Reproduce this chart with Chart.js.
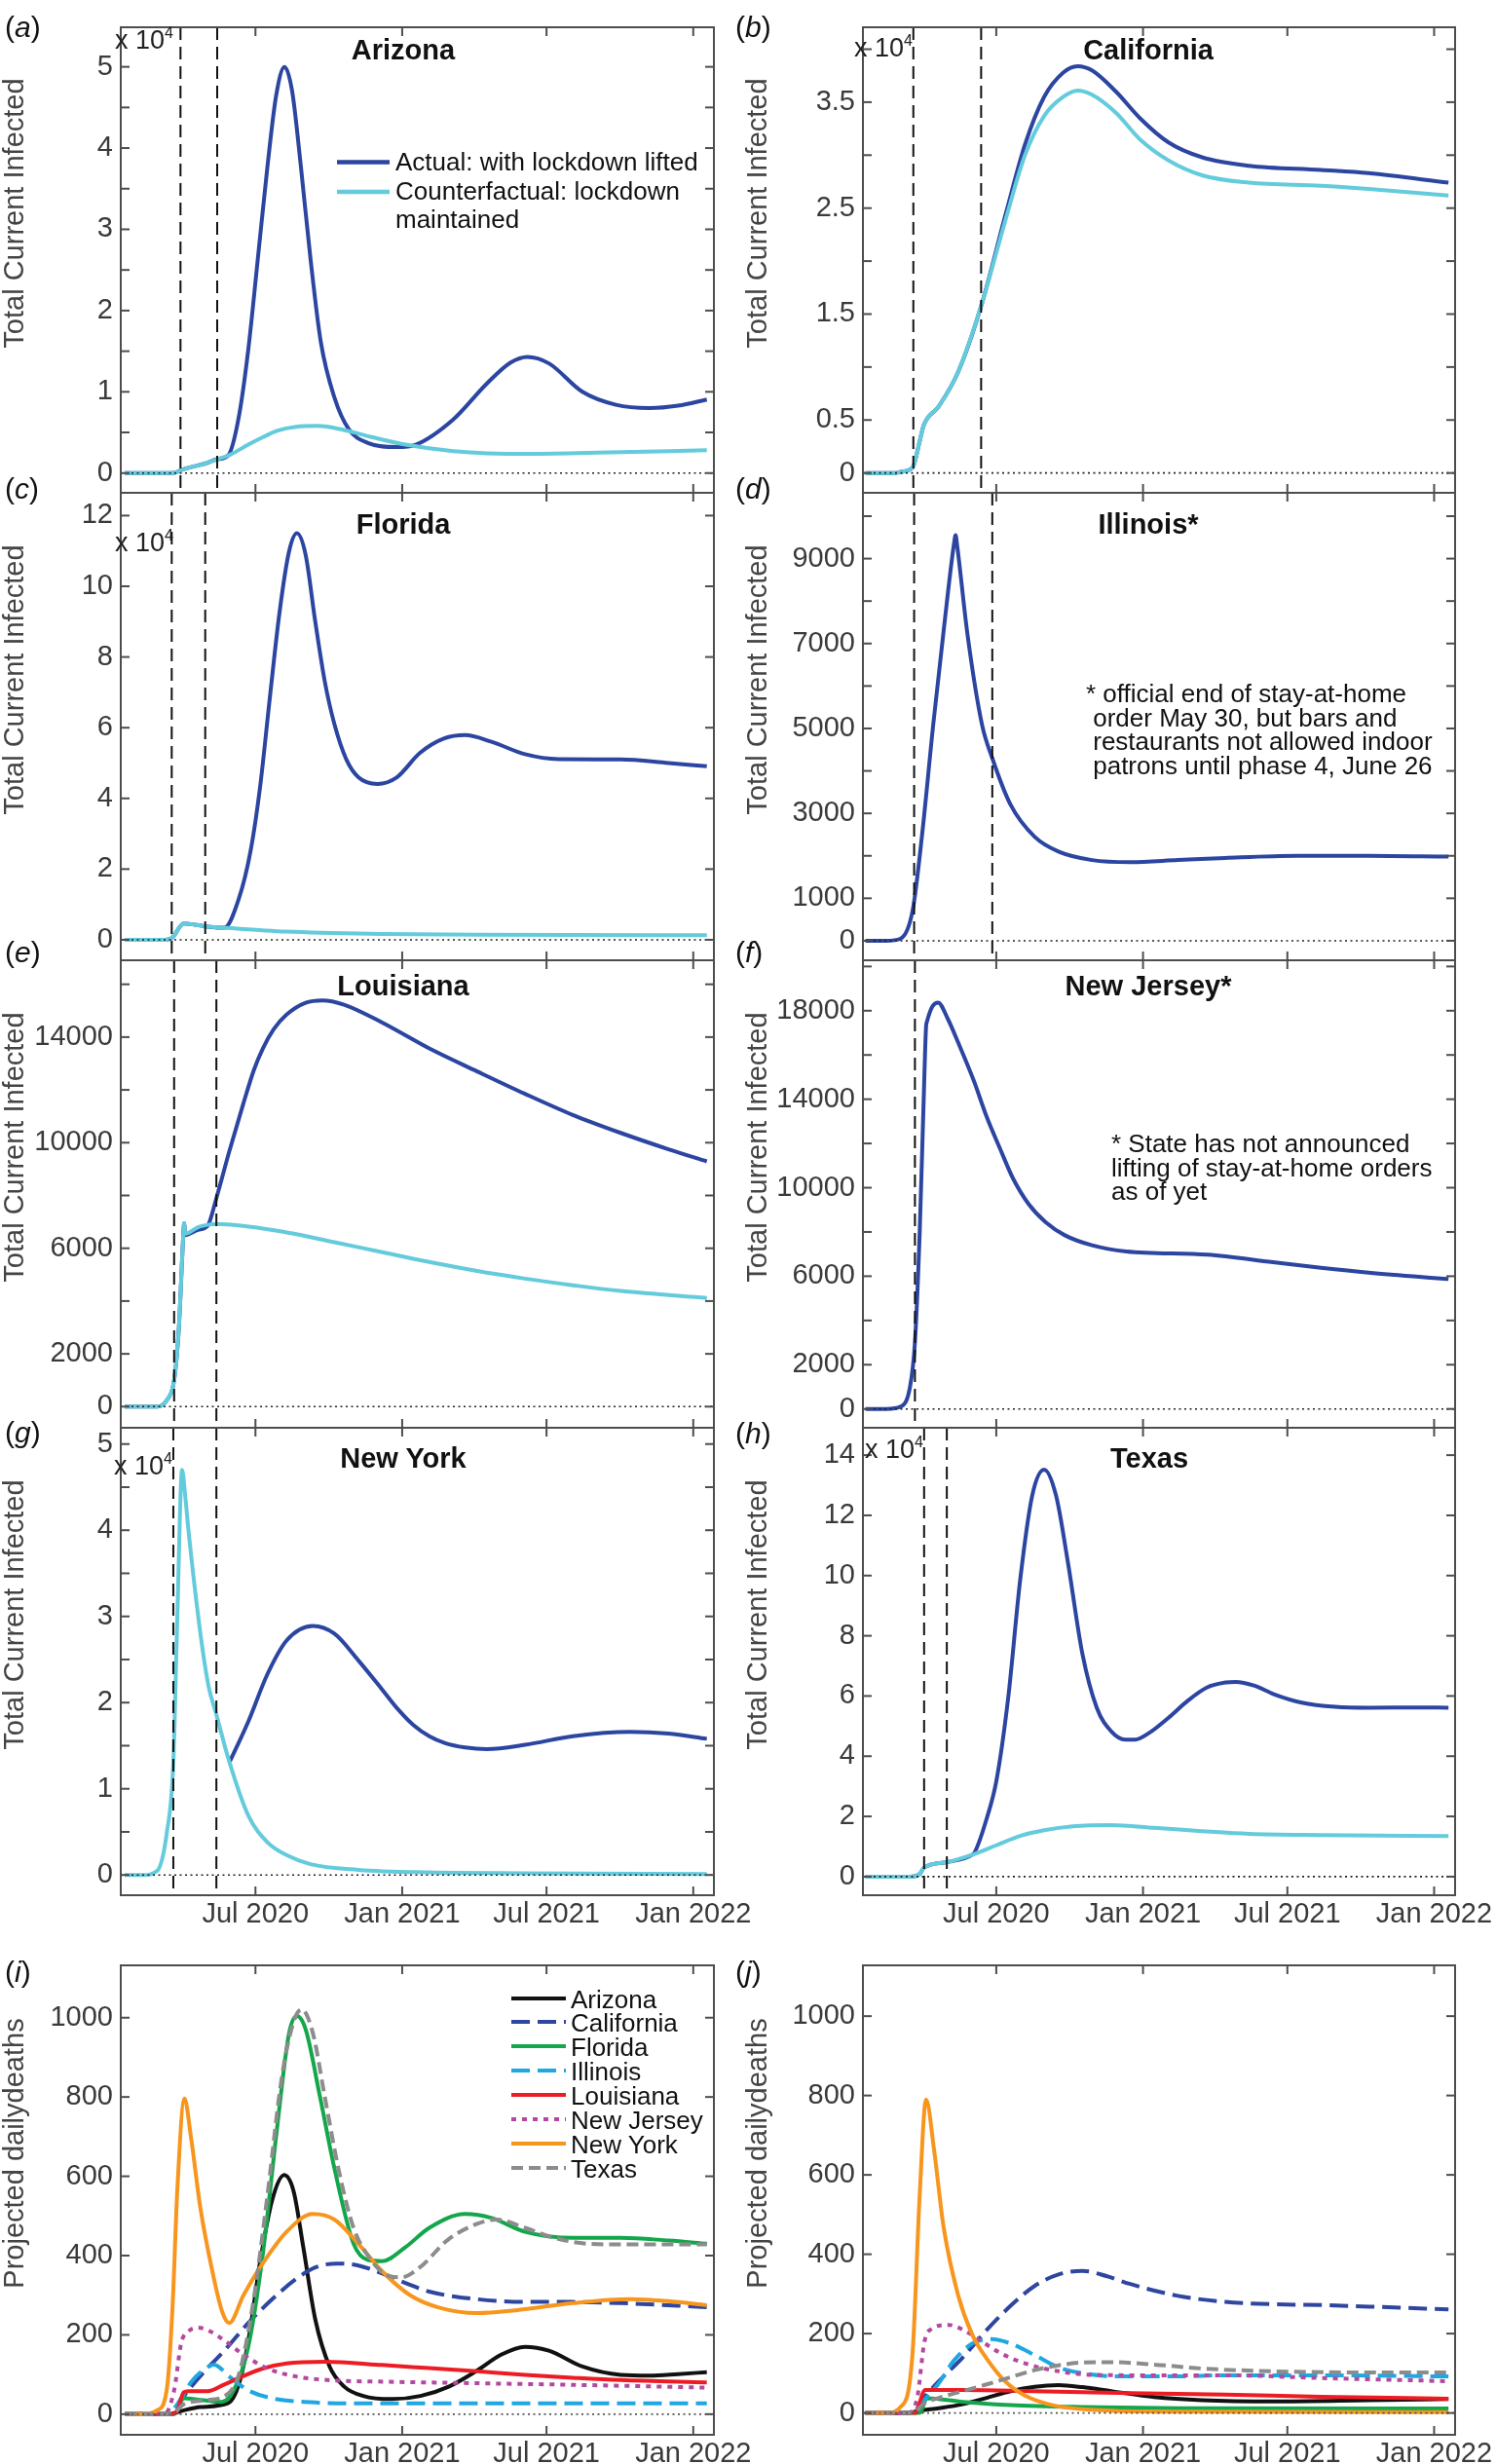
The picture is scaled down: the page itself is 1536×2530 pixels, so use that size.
<!DOCTYPE html>
<html>
<head>
<meta charset="utf-8">
<script src="https://cdn.jsdelivr.net/npm/chart.js@4.4.1/dist/chart.umd.min.js"></script>
<style>
  body { margin: 0; background: #fff; overflow: hidden; }
  #fig { position: relative; width: 1536px; height: 2530px; font-family: "Liberation Sans", Arial, Helvetica, sans-serif; color: #111; }
  #fig canvas { position: absolute; }
  .t { position: absolute; white-space: pre; }
  .yl { position: absolute; white-space: pre; font-size: 29px; line-height: 29px; color: #444; transform: translate(-50%, -50%) rotate(-90deg); }
</style>
</head>
<body>
<div id="fig"></div>
<script>
// x axis: days since 1 Jan 2020
const xTickDays = [182, 366, 547, 731];
const xTickLabels = ['Jul 2020', 'Jan 2021', 'Jul 2021', 'Jan 2022'];

// (a) Arizona - total current infected
const azCfDays = [18, 60, 80, 88, 100, 120, 134, 149, 173, 191, 209, 233, 260, 293, 329, 370, 430, 520, 610, 748];
const azCf = [0, 0, 40, 340, 700, 1200, 1700, 2200, 3500, 4400, 5200, 5700, 5800, 5300, 4400, 3500, 2700, 2350, 2500, 2800];
const azActDays = [18, 60, 80, 88, 100, 120, 134, 148, 161, 173, 185, 197, 208, 218.5, 228, 239, 251, 264, 281, 299, 323, 359, 383, 430, 472, 502, 523, 550, 592, 634, 676, 712, 748];
const azAct = [0, 0, 40, 340, 700, 1200, 1700, 2200, 6850, 15200, 26400, 37700, 46500, 50000, 47000, 37700, 26400, 16100, 9300, 5400, 3700, 3200, 3500, 6600, 11000, 13600, 14300, 13500, 10000, 8400, 8000, 8300, 9050];

// (b) California
const caDays = [18, 55, 62, 77, 86, 91, 110, 134, 164, 194, 218, 242, 266, 284, 302, 332, 362, 398, 440, 499, 589, 649, 749];
const caAct = [0, 0, 100, 500, 3000, 4500, 6300, 9500, 16000, 24500, 31000, 35500, 37800, 38400, 38000, 36000, 33500, 31200, 29800, 29000, 28600, 28300, 27400];
const caCf = [0, 0, 100, 500, 3000, 4500, 6300, 9500, 16000, 24000, 30000, 33700, 35500, 36100, 35700, 34000, 31500, 29500, 28100, 27400, 27100, 26800, 26200];

// (c) Florida
const flCfDays = [18, 65, 77, 92, 119, 143, 221, 341, 460, 748];
const flCf = [0, 0, 500, 4600, 3800, 3400, 2300, 1650, 1400, 1300];
const flActDays = [18, 65, 77, 92, 119, 143, 161, 176, 188, 200, 212, 224, 234, 245, 257, 269, 281, 296, 311, 335, 359, 388, 418, 445, 478, 520, 562, 640, 700, 748];
const flAct = [0, 0, 500, 4600, 3800, 3400, 11500, 25300, 43600, 68400, 92300, 109700, 115000, 108800, 90000, 73000, 61000, 51000, 46000, 44100, 45900, 52800, 56900, 57900, 56000, 52500, 51100, 51000, 50000, 49100];

// (d) Illinois
const ilDays = [18, 44, 62, 77, 89, 103, 116, 129, 131, 133, 146, 164, 177, 200, 230, 260, 302, 350, 410, 469, 559, 649, 749];
const ilAct = [0, 0, 50, 700, 2500, 5100, 7300, 9350, 9550, 9300, 7200, 5100, 4300, 3200, 2450, 2100, 1900, 1850, 1900, 1950, 2000, 2000, 1980];

// (e) Louisiana
const laCfDays = [18, 59, 71, 80, 86, 91, 92.5, 94, 110, 125, 133, 221, 281, 341, 400, 460, 520, 580, 640, 748];
const laCf = [0, 0, 250, 1000, 3000, 6200, 6950, 6550, 6800, 6900, 6920, 6600, 6230, 5850, 5480, 5140, 4850, 4600, 4380, 4120];
const laActDays = [18, 59, 71, 80, 86, 91, 92.5, 94, 110, 122, 133, 149, 167, 180, 191, 205, 221, 245, 266, 293, 341, 400, 460, 520, 580, 640, 700, 748];
const laAct = [0, 0, 250, 1000, 3000, 6200, 6950, 6500, 6700, 6850, 7900, 9650, 11500, 12750, 13550, 14300, 14850, 15300, 15390, 15230, 14550, 13570, 12700, 11850, 11050, 10370, 9750, 9290];

// (f) New Jersey
const njDays = [18, 44, 62, 74, 80, 86, 91, 94, 95, 102, 109, 121, 134, 154, 170, 187, 203, 223, 244, 268, 301, 345, 447, 529, 589, 649, 749];
const njAct = [0, 0, 100, 1030, 3000, 8000, 14000, 17300, 17500, 18200, 18370, 17650, 16580, 14820, 13200, 11740, 10420, 9240, 8440, 7850, 7410, 7120, 6970, 6630, 6380, 6160, 5870];

// (g) New York
const nyCfDays = [18, 41, 59, 71, 79, 84, 90, 94, 98, 113, 123, 133, 149, 173, 197, 221, 251, 311, 400, 520, 748];
const nyCf = [0, 0, 500, 5000, 13000, 29900, 47000, 43900, 40000, 28000, 22000, 18600, 13200, 6900, 3800, 2300, 1250, 600, 300, 200, 100];
const nyActDays = [150, 173, 197, 221, 254, 281, 311, 341, 360, 380, 400, 420, 445, 472, 520, 580, 652, 700, 748];
const nyAct = [13200, 17800, 23300, 27200, 28900, 28000, 24900, 21500, 19300, 17400, 16100, 15300, 14800, 14600, 15100, 16100, 16600, 16400, 15800];

// (h) Texas
const txCfDays = [18, 74, 86, 91.5, 120, 152, 182, 212, 242, 278, 326, 380, 440, 499, 589, 749];
const txCf = [0, 0, 900, 3000, 4800, 7300, 10400, 13500, 15400, 16700, 17100, 16200, 15100, 14200, 13800, 13500];
const txActDays = [18, 74, 86, 91.5, 120, 152, 155, 170, 182, 197, 212, 227, 242, 257, 272, 290, 308, 326, 344, 356, 374, 398, 422, 446, 470, 482, 506, 530, 565, 607, 649, 709, 749];
const txAct = [0, 0, 900, 3000, 4800, 7300, 8100, 19300, 31600, 59500, 98600, 126500, 135200, 126500, 104100, 74000, 56100, 48300, 45500, 45500, 47800, 52800, 58400, 62800, 64500, 64700, 63400, 60600, 57800, 56400, 56100, 56200, 56100];

// (i) projected daily deaths, lockdown lifted
const iAzDays = [18, 74, 89, 113, 148, 161, 173, 188, 203, 218, 230, 242, 257, 275, 293, 317, 353, 389, 425, 460, 490, 520, 550, 592, 640, 676, 712, 748];
const iAz = [0, 0, 8, 18, 28, 74, 184, 386, 540, 603, 561, 421, 239, 120, 70, 46, 38, 46, 70, 110, 150, 170, 160, 120, 99, 97, 101, 106];
const iCaDays = [18, 68, 83, 98, 119, 143, 173, 203, 233, 257, 284, 311, 341, 370, 400, 460, 520, 580, 640, 748];
const iCa = [0, 0, 20, 61, 110, 160, 230, 290, 341, 370, 380, 375, 355, 331, 309, 290, 283, 283, 280, 270];
const iFlDays = [18, 80, 92, 113, 140, 155, 173, 191, 209, 224, 234, 245, 263, 281, 305, 323, 341, 370, 400, 445, 478, 520, 580, 640, 700, 748];
const iFl = [0, 0, 40, 36, 31, 61, 170, 400, 720, 959, 1004, 970, 800, 620, 430, 389, 386, 421, 470, 505, 495, 460, 445, 445, 438, 430];
const iIlDays = [18, 71, 89, 101, 116, 130, 149, 173, 203, 251, 311, 748];
const iIl = [0, 0, 40, 80, 110, 125, 95, 60, 40, 30, 27, 27];
const iLaDays = [18, 74, 83, 92, 98, 122, 143, 161, 191, 221, 269, 341, 400, 460, 520, 580, 640, 748];
const iLa = [0, 0, 5, 55, 58, 58, 75, 91, 115, 128, 132, 124, 116, 108, 99, 92, 86, 80];
const iNjDays = [18, 68, 80, 89, 98, 110, 125, 143, 167, 197, 233, 281, 341, 460, 580, 748];
const iNj = [0, 0, 60, 180, 209, 218, 209, 186, 150, 115, 95, 85, 82, 78, 74, 67];
const iNyDays = [18, 41, 59, 71, 78, 84, 93, 101, 113, 128, 140, 149, 167, 191, 221, 254, 281, 311, 341, 376, 412, 460, 508, 580, 652, 700, 748];
const iNy = [0, 0, 10, 65, 269, 565, 796, 701, 519, 360, 260, 230, 300, 380, 460, 505, 491, 430, 360, 300, 269, 255, 262, 280, 290, 285, 275];
const iTxDays = [18, 77, 92, 119, 143, 161, 179, 197, 215, 230, 240, 254, 269, 287, 305, 323, 347, 365, 388, 424, 460, 484, 520, 556, 598, 640, 748];
const iTx = [0, 0, 25, 35, 45, 99, 279, 552, 849, 991, 1021, 961, 800, 610, 470, 400, 350, 345, 370, 441, 480, 491, 470, 445, 430, 428, 428];

// (j) projected daily deaths, lockdown maintained
const jAzDays = [18, 74, 83, 110, 140, 170, 200, 230, 260, 290, 326, 380, 440, 529, 649, 749];
const jAz = [0, 0, 5, 12, 22, 38, 55, 66, 70, 65, 55, 40, 32, 29, 32, 35];
const jCaDays = [18, 77, 92, 110, 140, 170, 200, 230, 260, 290, 320, 350, 410, 469, 529, 589, 649, 749];
const jCa = [0, 0, 40, 80, 140, 209, 270, 320, 349, 358, 345, 325, 295, 280, 274, 272, 268, 261];
const jFlDays = [18, 86, 95, 140, 200, 290, 410, 749];
const jFl = [0, 0, 37, 28, 20, 15, 12, 11];
const jIlDays = [18, 74, 95, 110, 128, 152, 176, 200, 230, 260, 290, 338, 410, 469, 589, 749];
const jIl = [0, 0, 40, 75, 130, 175, 186, 175, 146, 115, 100, 92, 92, 95, 95, 92];
const jLaDays = [18, 80, 93, 140, 230, 350, 469, 589, 749];
const jLa = [0, 0, 58, 58, 55, 50, 46, 41, 36];
const jNjDays = [18, 71, 83, 92, 101, 122, 140, 164, 188, 218, 260, 302, 350, 469, 589, 749];
const jNj = [0, 0, 40, 180, 212, 222, 210, 180, 150, 125, 105, 96, 95, 95, 88, 80];
const jNyDays = [18, 44, 62, 77, 86, 94, 104, 116, 134, 152, 170, 194, 218, 254, 302, 380, 749];
const jNy = [0, 0, 15, 150, 550, 790, 663, 468, 298, 197, 137, 78, 44, 19, 8, 3, 2];
const jTxDays = [18, 77, 92, 110, 140, 170, 200, 230, 260, 290, 326, 380, 440, 529, 649, 749];
const jTx = [0, 0, 25, 38, 55, 72, 90, 108, 120, 127, 128, 122, 112, 105, 102, 102];

// y tick positions / labelled ticks
const ticksHalf5 = [0, 5000, 10000, 15000, 20000, 25000, 30000, 35000, 40000, 45000, 50000];
const labelsInt5 = [0, 10000, 20000, 30000, 40000, 50000];
const ticksCa = [0, 5000, 10000, 15000, 20000, 25000, 30000, 35000, 40000];
const labelsCa = [0, 5000, 15000, 25000, 35000];
const ticksFl = [0, 20000, 40000, 60000, 80000, 100000, 120000];
const ticksIl = [0, 1000, 2000, 3000, 4000, 5000, 6000, 7000, 8000, 9000, 10000];
const labelsIl = [0, 1000, 3000, 5000, 7000, 9000];
const ticksLa = [0, 2000, 4000, 6000, 8000, 10000, 12000, 14000, 16000];
const labelsLa = [0, 2000, 6000, 10000, 14000];
const ticksNj = [0, 2000, 4000, 6000, 8000, 10000, 12000, 14000, 16000, 18000, 20000];
const labelsNj = [0, 2000, 6000, 10000, 14000, 18000];
const ticksTx = [0, 20000, 40000, 60000, 80000, 100000, 120000, 140000];
const ticksDeaths = [0, 200, 400, 600, 800, 1000];

const FONT = '"Liberation Sans", Arial, Helvetica, sans-serif';
const BLUE = '#2b45a1', CYAN = '#64cbdc';
const STATE_COLORS = ['#111111', '#2e46a0', '#14a64b', '#1fa7e1', '#ec1c24', '#b4489f', '#f7951d', '#8c8c8c'];
const STATE_DASH = [[], [19, 8], [], [19, 8], [], [5, 6], [], [12, 6]];
const STATE_NAMES = ['Arizona', 'California', 'Florida', 'Illinois', 'Louisiana', 'New Jersey', 'New York', 'Texas'];

function series(days, vals, color, extra) {
  return Object.assign({
    data: days.map((d, i) => ({ x: d, y: vals[i] })),
    borderColor: color, borderWidth: 4, pointRadius: 0, fill: false,
    cubicInterpolationMode: 'monotone', borderJoinStyle: 'round'
  }, extra || {});
}
function pair(cfDays, cf, actDays, act) {
  const sets = [];
  if (cfDays) sets.push(series(cfDays, cf, CYAN, { order: 0 }));
  sets.push(series(actDays, act, BLUE, { order: 1 }));
  return sets;
}
function deaths(list) {
  return list.map((s, i) => series(s[0], s[1], STATE_COLORS[i], { borderDash: STATE_DASH[i], order: 8 - i }));
}

const LEFT = { x: 124, w: 609, min: 13.1, max: 756.9 };
const RIGHT = { x: 886, w: 608, min: 14.8, max: 757.3 };
const ROWS = [{ y: 28, h: 478 }, { y: 506, h: 480 }, { y: 986, h: 480 }, { y: 1466, h: 480 }, { y: 2018, h: 482 }];

const panels = [
  { col: LEFT, row: 0, yMin: -2430, yMax: 54870, yTicks: ticksHalf5, yLabels: labelsInt5, div: 1e4, vlines: [88, 134],
    sets: pair(azCfDays, azCf, azActDays, azAct) },
  { col: RIGHT, row: 0, yMin: -1870, yMax: 42070, yTicks: ticksCa, yLabels: labelsCa, div: 1e4, vlines: [78, 163],
    sets: pair(caDays, caCf, caDays, caAct) },
  { col: LEFT, row: 1, yMin: -5800, yMax: 126450, yTicks: ticksFl, yLabels: ticksFl, div: 1e4, vlines: [77, 119],
    sets: pair(flCfDays, flCf, flActDays, flAct) },
  { col: RIGHT, row: 1, yMin: -460, yMax: 10550, yTicks: ticksIl, yLabels: labelsIl, div: 1, vlines: [79, 177],
    sets: pair(null, null, ilDays, ilAct) },
  { col: LEFT, row: 2, yMin: -800, yMax: 16910, yTicks: ticksLa, yLabels: labelsLa, div: 1, vlines: [80, 133],
    sets: pair(laCfDays, laCf, laActDays, laAct) },
  { col: RIGHT, row: 2, yMin: -850, yMax: 20280, yTicks: ticksNj, yLabels: labelsNj, div: 1, vlines: [80],
    sets: pair(null, null, njDays, njAct) },
  { col: LEFT, row: 3, yMin: -2350, yMax: 51890, yTicks: ticksHalf5, yLabels: labelsInt5, div: 1e4, vlines: [79, 133], xLabels: true,
    sets: pair(nyCfDays, nyCf, nyActDays, nyAct) },
  { col: RIGHT, row: 3, yMin: -6180, yMax: 149100, yTicks: ticksTx, yLabels: ticksTx, div: 1e4, vlines: [91.5, 120], xLabels: true,
    sets: pair(txCfDays, txCf, txActDays, txAct) },
  { col: LEFT, row: 4, yMin: -52, yMax: 1132, yTicks: ticksDeaths, yLabels: ticksDeaths, div: 1, vlines: [], xLabels: true, zeroColor: '#555',
    sets: deaths([[iAzDays, iAz], [iCaDays, iCa], [iFlDays, iFl], [iIlDays, iIl], [iLaDays, iLa], [iNjDays, iNj], [iNyDays, iNy], [iTxDays, iTx]]) },
  { col: RIGHT, row: 4, yMin: -55, yMax: 1128, yTicks: ticksDeaths, yLabels: ticksDeaths, div: 1, vlines: [], xLabels: true, zeroColor: '#555',
    sets: deaths([[jAzDays, jAz], [jCaDays, jCa], [jFlDays, jFl], [jIlDays, jIl], [jLaDays, jLa], [jNjDays, jNj], [jNyDays, jNy], [jTxDays, jTx]]) }
];

// MATLAB-like box: inward ticks on all sides, dashed event lines, dotted zero line
const boxPlugin = {
  id: 'matlabBox',
  afterDatasetsDraw(chart, args, opts) {
    const { ctx, chartArea: a } = chart;
    const x = chart.scales.x, y = chart.scales.y;
    const seg = (x1, y1, x2, y2) => { ctx.beginPath(); ctx.moveTo(x1, y1); ctx.lineTo(x2, y2); ctx.stroke(); };
    ctx.save();
    const y0 = y.getPixelForValue(0);
    ctx.setLineDash([2, 3.5]);
    ctx.lineWidth = 1.6;
    ctx.strokeStyle = opts.zeroColor || '#222';
    seg(a.left, y0, a.right, y0);
    ctx.setLineDash([13, 7]);
    ctx.lineWidth = 2;
    ctx.strokeStyle = '#111';
    (opts.vlines || []).forEach(d => { const px = x.getPixelForValue(d); seg(px, a.top, px, a.bottom); });
    ctx.setLineDash([]);
    ctx.strokeStyle = '#4d4d4d';
    ctx.lineWidth = 2;
    ctx.strokeRect(a.left, a.top, a.right - a.left, a.bottom - a.top);
    const t = 9;
    y.ticks.forEach(tk => {
      const py = y.getPixelForValue(tk.value);
      seg(a.left, py, a.left + t, py);
      seg(a.right - t, py, a.right, py);
    });
    x.ticks.forEach(tk => {
      const px = x.getPixelForValue(tk.value);
      seg(px, a.top, px, a.top + t);
      seg(px, a.bottom - t, px, a.bottom);
    });
    ctx.restore();
  }
};

const fig = document.getElementById('fig');
const YW = 120, PADR = 40, PADT = 12;

panels.forEach(p => {
  const row = ROWS[p.row];
  const xh = p.xLabels ? 56 : 12;
  const W = p.col.w + YW + PADR, H = row.h + PADT + xh;
  const cv = document.createElement('canvas');
  cv.width = W; cv.height = H;
  cv.style.left = (p.col.x - YW) + 'px';
  cv.style.top = (row.y - PADT) + 'px';
  cv.style.width = W + 'px';
  cv.style.height = H + 'px';
  fig.appendChild(cv);

  new Chart(cv, {
    type: 'line',
    data: { datasets: p.sets },
    options: {
      responsive: false,
      animation: false,
      devicePixelRatio: 1,
      layout: { padding: { left: 0, right: PADR, top: PADT, bottom: 0 } },
      plugins: {
        legend: { display: false },
        tooltip: { enabled: false },
        matlabBox: { vlines: p.vlines, zeroColor: p.zeroColor }
      },
      scales: {
        x: {
          type: 'linear', min: p.col.min, max: p.col.max,
          afterBuildTicks: s => { s.ticks = xTickDays.map(v => ({ value: v })); },
          ticks: {
            display: !!p.xLabels, autoSkip: false, maxRotation: 0, padding: 3,
            color: '#3a3a3a', font: { size: 29, family: FONT },
            callback: v => xTickLabels[xTickDays.indexOf(v)]
          },
          grid: { display: false, drawTicks: false },
          border: { display: false },
          afterFit: s => { s.height = xh; s.paddingLeft = 0; s.paddingRight = 0; }
        },
        y: {
          min: p.yMin, max: p.yMax,
          afterBuildTicks: s => { s.ticks = p.yTicks.map(v => ({ value: v })); },
          ticks: {
            autoSkip: false, padding: 8,
            color: '#3a3a3a', font: { size: 29, family: FONT },
            callback: v => p.yLabels.includes(v) ? String(v / p.div) : ''
          },
          grid: { display: false, drawTicks: false },
          border: { display: false },
          afterFit: s => { s.width = YW; s.paddingTop = 0; s.paddingBottom = 0; }
        }
      }
    },
    plugins: [boxPlugin]
  });
});

// ---- text overlays ----
function addText(html, x, base, size, o) {
  o = o || {};
  const d = document.createElement('div');
  d.className = 't';
  d.innerHTML = html;
  d.style.fontSize = size + 'px';
  d.style.lineHeight = size + 'px';
  d.style.top = (base - 0.8465 * size).toFixed(1) + 'px';
  d.style.left = x + 'px';
  if (o.center) d.style.transform = 'translateX(-50%)';
  if (o.bold) d.style.fontWeight = 'bold';
  d.style.color = o.color || '#111';
  fig.appendChild(d);
}
function addYLabel(text, cx, cy) {
  const d = document.createElement('div');
  d.className = 'yl';
  d.textContent = text;
  d.style.left = cx + 'px';
  d.style.top = cy + 'px';
  fig.appendChild(d);
}

const titles = [['Arizona', 414, 61], ['California', 1179, 61], ['Florida', 414, 548], ['Illinois*', 1179, 548],
  ['Louisiana', 414, 1022], ['New Jersey*', 1179, 1022], ['New York', 414, 1507], ['Texas', 1180, 1507]];
titles.forEach(t => addText(t[0], t[1], t[2], 29, { center: true, bold: true }));

const letters = [['a', 5, 38], ['b', 755, 38], ['c', 5, 512], ['d', 755, 512], ['e', 5, 988], ['f', 755, 988],
  ['g', 5, 1481], ['h', 755, 1482], ['i', 5, 2035], ['j', 755, 2035]];
letters.forEach(l => addText('(<i>' + l[0] + '</i>)', l[1], l[2], 30));

const mults = [[118, 51], [877, 59], [118, 567], [117, 1515], [888, 1498]];
mults.forEach(m => addText('x 10<span style="font-size:16px;position:relative;top:-11px">4</span>', m[0], m[1], 27, { color: '#222' }));

[219, 698, 1178, 1658].forEach(cy => { addYLabel('Total Current Infected', 14, cy); addYLabel('Total Current Infected', 777, cy); });
addYLabel('Projected dailydeaths', 14, 2211);
addYLabel('Projected dailydeaths', 777, 2211);

const ilNote = ['* official end of stay-at-home', ' order May 30, but bars and', ' restaurants not allowed indoor', ' patrons until phase 4, June 26'];
ilNote.forEach((s, i) => addText(s, 1115, 721 + i * 24.5, 26));
const njNote = ['* State has not announced', 'lifting of stay-at-home orders', 'as of yet'];
njNote.forEach((s, i) => addText(s, 1141, 1183 + i * 24.5, 26));

// legends
const SVGNS = 'http://www.w3.org/2000/svg';
function legendLines(items, x1, x2) {
  const svg = document.createElementNS(SVGNS, 'svg');
  svg.setAttribute('width', 1536); svg.setAttribute('height', 2530);
  svg.style.position = 'absolute'; svg.style.left = '0'; svg.style.top = '0';
  items.forEach(it => {
    const ln = document.createElementNS(SVGNS, 'line');
    ln.setAttribute('x1', x1); ln.setAttribute('x2', x2);
    ln.setAttribute('y1', it.y); ln.setAttribute('y2', it.y);
    ln.setAttribute('stroke', it.color); ln.setAttribute('stroke-width', it.w || 4);
    if (it.dash && it.dash.length) ln.setAttribute('stroke-dasharray', it.dash.join(' '));
    svg.appendChild(ln);
  });
  fig.appendChild(svg);
}
legendLines([{ y: 166.5, color: BLUE, w: 4.5 }, { y: 197, color: CYAN, w: 4.5 }], 346, 400);
addText('Actual: with lockdown lifted', 406, 175, 26);
addText('Counterfactual: lockdown', 406, 205, 26);
addText('maintained', 406, 234, 26);

const legendRows = [2052, 2076, 2101, 2126, 2151, 2176, 2201, 2226];
legendLines(legendRows.map((y, i) => ({ y: y, color: STATE_COLORS[i], dash: STATE_DASH[i], w: 4 })), 525, 581);
legendRows.forEach((y, i) => addText(STATE_NAMES[i], 586, y + 9.5, 26));
</script>
</body>
</html>
